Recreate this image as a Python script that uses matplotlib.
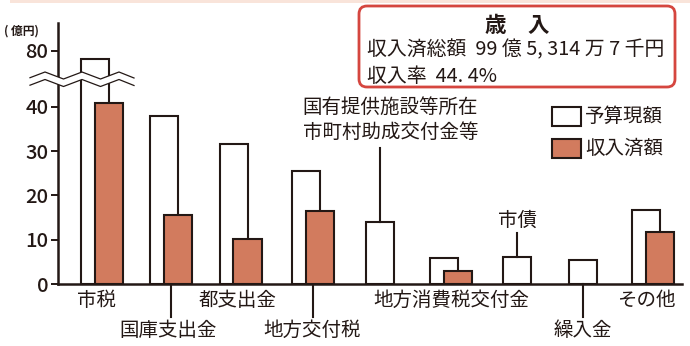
import matplotlib
matplotlib.use("Agg")
import matplotlib.pyplot as plt
import numpy as np
from matplotlib.transforms import Affine2D, blended_transform_factory
from matplotlib.patches import FancyBboxPatch, Rectangle, Polygon
from matplotlib.lines import Line2D

plt.rcParams['font.family'] = ['Noto Sans CJK JP', 'DejaVu Sans']

# 歳入 (億円)
categories = ['市税', '国庫支出金', '都支出金', '地方交付税',
              '国有提供施設等所在\n市町村助成交付金等', '地方消費税交付金',
              '市債', '繰入金', 'その他']
budget = [78.2, 37.9, 31.7, 25.4, 13.9, 5.9, 6.1, 5.5, 16.8]     # 予算現額
received = [40.9, 15.5, 10.1, 16.5, 0, 2.9, 0, 0, 11.8]         # 収入済額
yticks = [0, 10, 20, 30, 40, 80]
title = '歳　入'
total_line = '収入済総額  99 億 5, 314 万 7 千円'
rate_line = '収入率  44. 4%'

INK = '#231815'
RUST = '#d27b5e'
W, H = 690, 346

fig = plt.figure(figsize=(W / 100, H / 100), dpi=100)
# pixel coordinates, origin at top-left
px = Affine2D().scale(1 / W, -1 / H).translate(0, 1) + fig.transFigure

# thin tinted strip along the top edge
fig.add_artist(Rectangle((10, 0), 680, 2.5, facecolor='#f9e4da',
                         edgecolor='none', transform=px))

ax = fig.add_axes([58 / W, 1 - 284 / H, 624 / W, 261 / H])

# broken axis: squeeze 46..74.8 into a sliver
A, S, B = 46.0, 0.05, 74.8
C = A + (B - A) * S


def fwd(v):
    v = np.asarray(v, float)
    return np.where(v <= A, v, np.where(v < B, A + (v - A) * S, C + (v - B)))


def inv(u):
    u = np.asarray(u, float)
    return np.where(u <= A, u, np.where(u < C, A + (u - A) / S, u - C + B))


YTOP = 86.26
ax.set_yscale('function', functions=(fwd, inv))
ax.set_ylim(0, YTOP)

# group positions (1 unit = 69 px)
pos = np.array([0, 1, 2.01, 3.06, 4.13, 5.06, 6.12, 7.07, 7.99])
bw = 0.406
off = 0.2
ax.set_xlim(-23 / 69, 601 / 69)

ax.bar(pos, budget, width=bw, align='edge', color='white',
       edgecolor=INK, linewidth=1.5, zorder=2)
rec = np.array(received)
has = rec > 0
ax.bar(pos[has] + off, rec[has], width=bw, align='edge', color=RUST,
       edgecolor=INK, linewidth=1.5, zorder=3)

for s in ['top', 'right']:
    ax.spines[s].set_visible(False)
for s in ['left', 'bottom']:
    ax.spines[s].set_linewidth(1.8)
    ax.spines[s].set_color(INK)
ax.set_xticks([])
ax.set_yticks(yticks)
ax.yaxis.set_minor_locator(matplotlib.ticker.NullLocator())
ax.set_yticklabels([str(t) for t in yticks])
ax.tick_params(axis='y', direction='out', length=5, width=1.4, color=INK,
               pad=2, labelsize=14.5, labelcolor=INK)
for lab in ax.get_yticklabels():
    lab.set_fontweight('medium')

fig.text(4 / W, 1 - 31 / H, '( 億円)', fontsize=8.5, fontweight='bold',
         color=INK, va='center', ha='left')

# axis break
xs = [30, 45, 63.5, 82, 100.5, 119, 134]
ys_up = [77.7, 72, 79, 72, 79, 72, 78]
ys_lo = [y + 7.5 for y in ys_up]
band = Polygon(list(zip(xs, ys_up)) + list(zip(xs[::-1], ys_lo[::-1])),
               closed=True, facecolor='white', edgecolor='none', transform=px)
fig.add_artist(band)
fig.add_artist(Line2D(xs, ys_up, color=INK, lw=0.9, transform=px))
fig.add_artist(Line2D(xs, ys_lo, color=INK, lw=0.9, transform=px))

# category labels and leader lines
lt = blended_transform_factory(ax.transData, px)
centers = np.where(has, pos + (off + bw) / 2, pos + bw / 2)
# (row y in px, x shift in units, leader line end y in px or None)
place = [(300, -0.08, None), (330, -0.04, 317), (300, -0.04, None),
         (330, -0.02, 317), (120, 0.15, 148), (300, 0, None),
         (220, 0, 233), (330, 0, 317), (300, -0.1, None)]
for i, (cat, (yy, dx, lead)) in enumerate(zip(categories, place)):
    xc = centers[i]
    if lead is not None:
        if yy > 284:
            start = 284
        else:
            start = 284 - fwd(budget[i]) * 261 / fwd(YTOP)
        ax.plot([xc, xc], [start, lead], color=INK, lw=1.5,
                transform=lt, clip_on=False)
    ax.text(xc + dx, yy, cat, transform=lt, ha='center', va='center',
            fontsize=14, color=INK, linespacing=1.25)

# legend
fig.add_artist(Rectangle((552, 107), 29, 19, facecolor='white',
                         edgecolor=INK, lw=1.5, transform=px))
fig.add_artist(Rectangle((552, 139), 29, 19, facecolor=RUST,
                         edgecolor=INK, lw=1.5, transform=px))
fig.text(585 / W, 1 - 116 / H, '予算現額', fontsize=14, color=INK,
         ha='left', va='center')
fig.text(585 / W, 1 - 148 / H, '収入済額', fontsize=14, color=INK,
         ha='left', va='center')

# summary box
fig.add_artist(FancyBboxPatch((359, 6), 316, 81,
                              boxstyle='round,pad=0,rounding_size=8',
                              facecolor='white', edgecolor='#d5463f',
                              lw=2, transform=px))
fig.text(517 / W, 1 - 26 / H, title, fontsize=15.5, fontweight='bold',
         color=INK, ha='center', va='center')
fig.text(367 / W, 1 - 50 / H, total_line, fontsize=14.3, color=INK,
         ha='left', va='center')
fig.text(367 / W, 1 - 76 / H, rate_line, fontsize=14.3, color=INK,
         ha='left', va='center')

fig.savefig('out.png', dpi=100)
